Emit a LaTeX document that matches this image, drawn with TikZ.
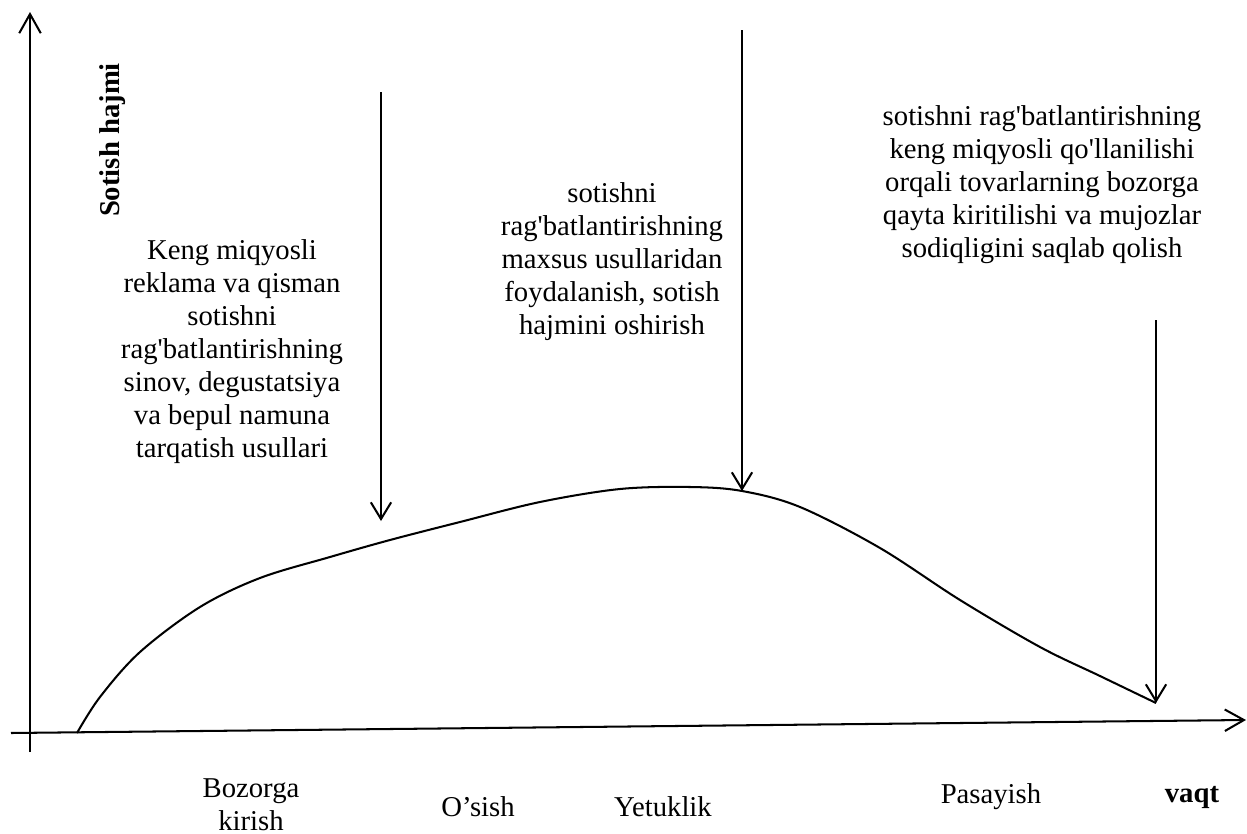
\documentclass[tikz,border=0pt]{standalone}
\usepackage{fontspec}
\setmainfont{Liberation Serif}
\usetikzlibrary{arrows.meta}
\newcommand{\ap}{\textquotesingle}
\begin{document}
\begin{tikzpicture}[x=0.418pt,y=-0.418pt,
  axis/.style={line width=0.85pt,-{Straight Barb[length=8pt,width=9pt,line width=0.85pt]}},
  pointer/.style={line width=0.85pt,-{Straight Barb[length=7pt,width=8.5pt,line width=0.85pt]}},
  curveline/.style={line width=0.85pt},
  txt/.style={font=\fontsize{12}{13.8}\selectfont,align=center,inner sep=0pt},
  bold/.style={txt,font=\fontsize{12}{13.8}\selectfont\bfseries}]
\useasboundingbox (0,0) rectangle (1247,834);

% axes
\coordinate (yb) at (30,752);
\coordinate (yt) at (30,12);
\coordinate (xl) at (11,733);
\coordinate (xr) at (1246,720);
\draw[axis] (yb) -- (yt);
\draw[axis] (xl) -- (xr);

% life-cycle curve
\coordinate (c0) at (77,733);
\coordinate (cpeak) at (742,491);
\coordinate (cend) at (1156,703);
\draw[curveline] plot[smooth,tension=0.55] coordinates {
  (77,733) (100,697) (140,652) (200,607) (260,578) (330,557) (390,540)
  (460,522) (540,502) (620,489) (690,487) (742,491) (800,507)
  (880,548) (960,600) (1040,647) (1100,676) (1156,703)};

% pointers
\coordinate (a1s) at (381,92);
\coordinate (a1e) at (381,521);
\coordinate (a2s) at (742,30);
\draw[pointer] (a1s) -- (a1e);
\draw[pointer] (a2s) -- (cpeak);
\coordinate (a3s) at (1156,320);
\draw[pointer] (a3s) -- (cend);

% labels
\node[bold,rotate=90] (ylab) at (113,140) {Sotish hajmi};
\node[txt] (t1) at (232,352) {Keng miqyosli\\reklama va qisman\\sotishni\\rag\ap batlantirishning\\sinov, degustatsiya\\va bepul namuna\\tarqatish usullari};
\node[txt] (t2) at (612,262) {sotishni\\rag\ap batlantirishning\\maxsus usullaridan\\foydalanish, sotish\\hajmini oshirish};
\node[txt] (t3) at (1042,185) {sotishni rag\ap batlantirishning\\keng miqyosli qo\ap llanilishi\\orqali tovarlarning bozorga\\qayta kiritilishi va mujozlar\\sodiqligini saqlab qolish};

\node[txt] (s1) at (251,805) {Bozorga\\kirish};
\node[txt] (s2) at (478,807) {O’sish};
\node[txt] (s3) at (663,807) {Yetuklik};
\node[txt] (s4) at (991,797) {Pasayish};
\node[bold] (xlab) at (1192,797) {vaqt};
\end{tikzpicture}
\end{document}
